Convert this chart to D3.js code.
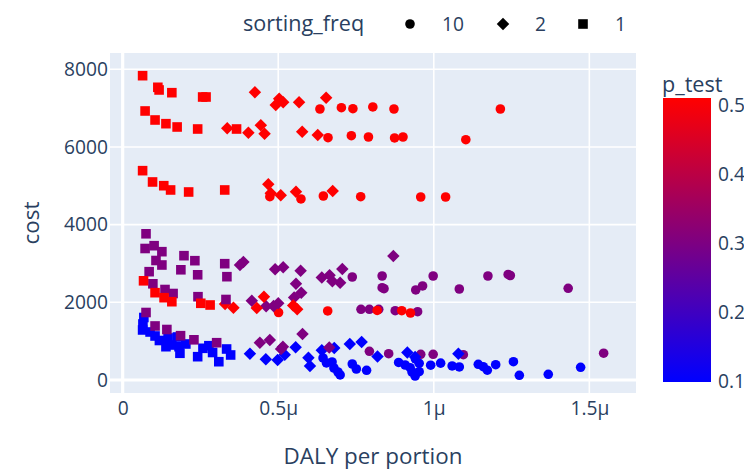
<!DOCTYPE html>
<html><head><meta charset="utf-8">
<script src="https://cdn.jsdelivr.net/npm/d3@7"></script>
<style>body{margin:0;background:#fff}svg{display:block}text{font-family:"Open Sans",sans-serif;fill:#2a3f5f}</style>
</head><body><svg id="c" width="744" height="471"></svg>
<script>
// ---- data (DALY per portion in units of 1e-6) ----
const freq10_x = [0.644,0.655,0.673,0.679,0.692,0.699,0.738,0.751,0.784,0.887,0.908,0.924,0.941,0.953,0.953,0.940,0.930,0.990,1.022,1.059,1.082,1.143,1.159,1.172,1.199,1.256,1.275,1.368,1.472,
  0.738,0.834,0.834,0.840,0.942,0.964,0.998,1.082,1.174,1.239,1.246,1.432,0.766,0.793,0.823,0.876,0.948,0.793,0.855,0.958,0.998,1.095,1.546,
  0.634,0.703,0.740,0.804,0.872,1.214,0.660,0.735,0.790,0.874,0.901,1.103,0.473,0.573,0.645,0.765,0.958,1.038,0.501,0.659,0.818,0.897,0.925];
const freq10_cost = [567,438,464,309,206,129,412,283,250,451,386,317,541,430,214,103,206,381,433,361,335,404,342,252,394,471,121,147,327,
  2652,2678,2377,2351,2318,2421,2678,2343,2678,2717,2691,2361,1821,1821,1821,1784,1759,739,677,662,662,651,690,
  6978,7012,6986,7030,6978,6978,6239,6291,6257,6232,6257,6188,4720,4661,4738,4720,4712,4712,1738,1777,1790,1784,1725];
const freq10_p = [0.1,0.1,0.1,0.1,0.1,0.1,0.1,0.1,0.1,0.1,0.1,0.1,0.1,0.1,0.1,0.1,0.1,0.1,0.1,0.1,0.1,0.1,0.1,0.1,0.1,0.1,0.1,0.1,0.1,
  0.3,0.3,0.3,0.3,0.3,0.3,0.3,0.3,0.3,0.3,0.3,0.3,0.3,0.3,0.3,0.3,0.3,0.3,0.3,0.3,0.3,0.3,0.3,
  0.5,0.5,0.5,0.5,0.5,0.5,0.5,0.5,0.5,0.5,0.5,0.5,0.5,0.5,0.5,0.5,0.5,0.5,0.5,0.5,0.5,0.5,0.5];

const freq2_x = [0.409,0.460,0.498,0.521,0.556,0.597,0.602,0.640,0.680,0.730,0.768,0.819,0.915,0.940,1.079,
  0.377,0.388,0.490,0.516,0.572,0.557,0.574,0.551,0.640,0.665,0.674,0.699,0.706,0.415,0.461,0.485,0.500,0.870,0.441,0.473,0.515,0.509,0.578,0.664,
  0.425,0.503,0.492,0.516,0.567,0.654,0.336,0.404,0.444,0.456,0.577,0.627,0.468,0.476,0.508,0.557,0.675,0.329,0.356,0.454,0.431,0.548,0.561];
const freq2_cost = [677,536,515,651,842,574,361,765,824,927,979,605,708,592,675,
  2961,3039,2851,2905,2812,2480,2248,2124,2639,2696,2542,2503,2858,2042,1898,1906,1975,3193,960,1030,857,798,1185,837,
  7408,7243,7081,7151,7151,7269,6481,6368,6559,6342,6394,6309,5039,4808,4756,4849,4867,1957,1862,2142,1854,1918,1821];
const freq2_p = [0.1,0.1,0.1,0.1,0.1,0.1,0.1,0.1,0.1,0.1,0.1,0.1,0.1,0.1,0.1,
  0.3,0.3,0.3,0.3,0.3,0.3,0.3,0.3,0.3,0.3,0.3,0.3,0.3,0.3,0.3,0.3,0.3,0.3,0.3,0.3,0.3,0.3,0.3,0.3,
  0.5,0.5,0.5,0.5,0.5,0.5,0.5,0.5,0.5,0.5,0.5,0.5,0.5,0.5,0.5,0.5,0.5,0.5,0.5,0.5,0.5,0.5,0.5];

const freq1_x = [0.068,0.065,0.064,0.104,0.118,0.139,0.158,0.176,0.181,0.184,0.241,0.258,0.277,0.289,0.309,0.334,0.347,0.088,0.146,0.203,
  0.075,0.072,0.101,0.126,0.107,0.126,0.197,0.232,0.187,0.241,0.328,0.335,0.085,0.097,0.136,0.162,0.242,0.332,0.075,0.104,0.142,0.186,0.229,0.302,
  0.064,0.113,0.117,0.158,0.257,0.268,0.072,0.104,0.139,0.175,0.241,0.366,0.064,0.096,0.132,0.154,0.212,0.328,0.067,0.104,0.133,0.158,0.251,0.281];
const freq1_cost = [1609,1442,1288,1133,1017,857,901,1107,857,688,600,816,883,708,471,798,644,1236,1082,927,
  3765,3386,3458,3304,3077,2961,3201,3072,2838,2709,2995,2660,2789,2477,2330,2227,2145,2073,1738,1391,1300,1141,1035,960,
  7836,7537,7468,7398,7287,7287,6927,6695,6600,6515,6463,6463,5390,5099,5003,4893,4841,4893,2554,2248,2119,2016,1975,1931];
const freq1_p = [0.1,0.1,0.1,0.1,0.1,0.1,0.1,0.1,0.1,0.1,0.1,0.1,0.1,0.1,0.1,0.1,0.1,0.1,0.1,0.1,
  0.3,0.3,0.3,0.3,0.3,0.3,0.3,0.3,0.3,0.3,0.3,0.3,0.3,0.3,0.3,0.3,0.3,0.3,0.3,0.3,0.3,0.3,0.3,0.3,
  0.5,0.5,0.5,0.5,0.5,0.5,0.5,0.5,0.5,0.5,0.5,0.5,0.5,0.5,0.5,0.5,0.5,0.5,0.5,0.5,0.5,0.5,0.5,0.5];

const freqLabels = ["10","2","1"];
const symbols = ["circle","diamond","square"];
const xTickVals = [0, 0.5e-6, 1e-6, 1.5e-6];
const xTickText = ["0","0.5μ","1μ","1.5μ"];
const yTickVals = [0,2000,4000,6000,8000];
const cbTicks = [0.1,0.2,0.3,0.4,0.5];

// ---- build table ----
const MICRO = 1e-6;
function rows(xs, cs, ps, f){ return xs.map((v,i)=>({x:v*MICRO, cost:cs[i], p:ps[i], f})); }
const traces = [
  rows(freq10_x,freq10_cost,freq10_p,0),
  rows(freq2_x,freq2_cost,freq2_p,1),
  rows(freq1_x,freq1_cost,freq1_p,2)
];

const svg = d3.select("#c");
const L=110,R=636,T=53,B=393;
const x = d3.scaleLinear().domain([-0.0408e-6, 1.650e-6]).range([L,R]);
const y = d3.scaleLinear().domain([-335, 8420]).range([B,T]);
const color = d3.scaleLinear().domain([0.1,0.5]).range(["#0000ff","#ff0000"]).interpolate(d3.interpolateRgb);

svg.append("rect").attr("x",L).attr("y",T).attr("width",R-L).attr("height",B-T).attr("fill","#E5ECF6");

// grid
svg.append("g").selectAll("line").data(xTickVals).join("line")
  .attr("x1",d=>x(d)).attr("x2",d=>x(d)).attr("y1",T).attr("y2",B)
  .attr("stroke","#fff").attr("stroke-width",d=>d===0?3.2:1.6);
svg.append("g").selectAll("line").data(yTickVals).join("line")
  .attr("x1",L).attr("x2",R).attr("y1",d=>y(d)).attr("y2",d=>y(d))
  .attr("stroke","#fff").attr("stroke-width",d=>d===0?3.2:1.6);

// axes labels via d3 axes
const xAxis = d3.axisBottom(x).tickValues(xTickVals).tickFormat((d,i)=>xTickText[i]).tickSize(0).tickPadding(8);
const gx = svg.append("g").attr("transform",`translate(0,${B})`).call(xAxis);
gx.select(".domain").remove();
gx.selectAll("text").attr("font-size",19.2).attr("fill","#2a3f5f").attr("font-family","Open Sans");

const yAxis = d3.axisLeft(y).tickValues(yTickVals).tickFormat(d3.format("d")).tickSize(0).tickPadding(2);
const gy = svg.append("g").attr("transform",`translate(${L},0)`).call(yAxis);
gy.select(".domain").remove();
gy.selectAll("text").attr("font-size",19.2).attr("fill","#2a3f5f").attr("font-family","Open Sans");

// axis titles
svg.append("text").attr("x",(L+R)/2).attr("y",464).attr("text-anchor","middle").attr("font-size",22.4).text("DALY per portion");
svg.append("text").attr("transform",`translate(39,${(T+B)/2}) rotate(-90)`).attr("text-anchor","middle").attr("font-size",22.4).text("cost");

// marker paths (plotly-style)
const r = 4.8;
function symPath(s, rr){
  if(s==="circle") return `M${rr},0A${rr},${rr} 0 1,1 0,-${rr}A${rr},${rr} 0 0,1 ${rr},0Z`;
  if(s==="diamond"){ const d=rr*1.3; return `M${d},0L0,${d}L-${d},0L0,-${d}Z`; }
  return `M${rr},${rr}H-${rr}V-${rr}H${rr}Z`;
}
svg.append("clipPath").attr("id","pc").append("rect").attr("x",L).attr("y",T).attr("width",R-L).attr("height",B-T);
const pts = svg.append("g").attr("clip-path","url(#pc)");
traces.forEach(tr=>{
  pts.append("g").selectAll("path").data(tr).join("path")
    .attr("d",d=>symPath(symbols[d.f],r))
    .attr("transform",d=>`translate(${x(d.x)},${y(d.cost)})`)
    .attr("fill",d=>color(d.p));
});

// legend
const lg = svg.append("g");
lg.append("text").attr("x",243).attr("y",31).attr("font-size",21.6).text("sorting_freq");
const legX = [410, 503, 583];
freqLabels.forEach((lab,i)=>{
  lg.append("path").attr("d",symPath(symbols[i],r)).attr("transform",`translate(${legX[i]},24)`).attr("fill","#000");
  lg.append("text").attr("x",legX[i]+32).attr("y",31).attr("font-size",19.2).text(lab);
});

// colorbar
const cbX=663, cbW=48, cbTop=98, cbBot=382;
const grad = svg.append("defs").append("linearGradient").attr("id","cbg").attr("x1",0).attr("x2",0).attr("y1",1).attr("y2",0);
d3.range(0,1.0001,0.1).forEach(t=>{
  grad.append("stop").attr("offset",t).attr("stop-color",color(0.1+0.4*t));
});
svg.append("rect").attr("x",cbX).attr("y",cbTop).attr("width",cbW).attr("height",cbBot-cbTop).attr("fill","url(#cbg)");
const cy = d3.scaleLinear().domain([0.1,0.5]).range([381,105]);
const cAxis = d3.axisRight(cy).tickValues(cbTicks).tickFormat(d3.format(".1f")).tickSize(0).tickPadding(7);
const gc = svg.append("g").attr("transform",`translate(${cbX+cbW},0)`).call(cAxis);
gc.select(".domain").remove();
gc.selectAll("text").attr("font-size",19.2).attr("fill","#2a3f5f").attr("font-family","Open Sans");
svg.append("text").attr("x",662).attr("y",92).attr("font-size",21.6).text("p_test");
</script></body></html>
